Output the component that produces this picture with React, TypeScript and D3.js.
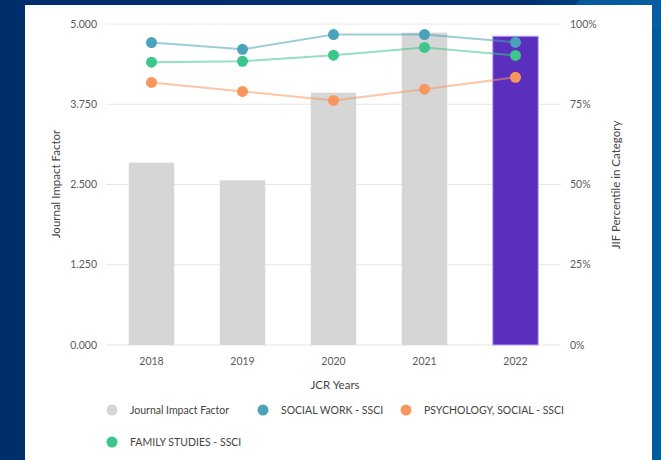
import React, { useEffect, useRef } from 'react';
import * as d3 from 'd3';

const years = ['2018', '2019', '2020', '2021', '2022'];
const impactFactor = [2.84, 2.565, 3.93, 4.865, 4.81];
const socialWork = [94.2, 92.1, 96.7, 96.7, 94.3];
const familyStudies = [88.1, 88.4, 90.3, 92.7, 90.2];
const psychologySocial = [81.8, 79.0, 76.2, 79.7, 83.4];
const leftTicks = [0, 1.25, 2.5, 3.75, 5];
const rightTicks = [0, 25, 50, 75, 100];

const seriesNames = ['Journal Impact Factor', 'SOCIAL WORK - SSCI', 'PSYCHOLOGY, SOCIAL - SSCI', 'FAMILY STUDIES - SSCI'];

const W = 661;
const H = 460;
const FONT = 'Lato, "Open Sans", sans-serif';

const App: React.FC = () => {
  const svgRef = useRef<SVGSVGElement>(null);

  useEffect(() => {
    if (!svgRef.current) return;
    const svg = d3.select(svgRef.current);
    svg.selectAll('*').remove();

    // background: navy frame with lighter blue to the right
    const defs = svg.append('defs');
    const grad = defs.append('linearGradient')
      .attr('id', 'bg')
      .attr('x1', '0').attr('y1', '0').attr('x2', '1').attr('y2', '0');
    grad.append('stop').attr('offset', '0%').attr('stop-color', '#002d6b');
    grad.append('stop').attr('offset', '80%').attr('stop-color', '#00306f');
    grad.append('stop').attr('offset', '100%').attr('stop-color', '#005c9e');
    svg.append('rect').attr('width', W).attr('height', H).attr('fill', 'url(#bg)');
    svg.append('path')
      .attr('d', `M580,0 L${W},0 L${W},30 L570,10 Z`)
      .attr('fill', '#0a5ea2').attr('opacity', 0.8);

    // white panel
    svg.append('rect')
      .attr('x', 25).attr('y', 5)
      .attr('width', 627).attr('height', H - 5)
      .attr('fill', '#ffffff');

    const x = d3.scaleBand<string>()
      .domain(years)
      .range([106, 561])
      .paddingInner(0.5)
      .paddingOuter(0.25);

    const yLeft = d3.scaleLinear().domain([0, 5]).range([345, 24]);
    const yRight = d3.scaleLinear().domain([0, 100]).range([345, 24]);

    const g = svg.append('g').attr('font-family', FONT);

    // gridlines
    g.append('g')
      .selectAll('line')
      .data(leftTicks)
      .join('line')
      .attr('x1', 106).attr('x2', 561)
      .attr('y1', d => yLeft(d)).attr('y2', d => yLeft(d))
      .attr('stroke', '#e6e6e6').attr('stroke-width', 1);

    // left axis labels
    g.append('g')
      .selectAll('text')
      .data(leftTicks)
      .join('text')
      .attr('x', 97).attr('y', d => yLeft(d))
      .attr('dy', '0.35em')
      .attr('text-anchor', 'end')
      .attr('font-size', 10.5)
      .attr('fill', '#5a5a5a')
      .text(d => d3.format('.3f')(d));

    // right axis labels
    g.append('g')
      .selectAll('text')
      .data(rightTicks)
      .join('text')
      .attr('x', 570).attr('y', d => yRight(d))
      .attr('dy', '0.35em')
      .attr('text-anchor', 'start')
      .attr('font-size', 10.5)
      .attr('fill', '#5a5a5a')
      .text(d => `${d}%`);

    // axis titles
    g.append('text')
      .attr('transform', `translate(60,184) rotate(-90)`)
      .attr('text-anchor', 'middle')
      .attr('font-size', 11.5)
      .attr('fill', '#444')
      .text('Journal Impact Factor');

    g.append('text')
      .attr('transform', `translate(620,185) rotate(-90)`)
      .attr('text-anchor', 'middle')
      .attr('font-size', 11.5)
      .attr('fill', '#444')
      .text('JIF Percentile in Category');

    // bars
    g.append('g')
      .selectAll('rect')
      .data(impactFactor)
      .join('rect')
      .attr('x', (_, i) => x(years[i])!)
      .attr('width', x.bandwidth())
      .attr('y', d => yLeft(d))
      .attr('height', d => yLeft(0) - yLeft(d))
      .attr('fill', (_, i) => (i === years.length - 1 ? '#5b2fbd' : '#d6d6d6'))
      .attr('stroke', (_, i) => (i === years.length - 1 ? '#b9a6ee' : 'none'))
      .attr('stroke-width', 1);

    // percentile lines
    const lines = [
      { values: socialWork, color: '#4aa3bb' },
      { values: familyStudies, color: '#3cc68a' },
      { values: psychologySocial, color: '#f7965f' },
    ];
    const cx = (i: number) => x(years[i])! + x.bandwidth() / 2;
    const line = d3.line<number>()
      .x((_, i) => cx(i))
      .y(d => yRight(d));

    lines.forEach(s => {
      const sg = g.append('g');
      sg.append('path')
        .datum(s.values)
        .attr('d', line)
        .attr('fill', 'none')
        .attr('stroke', s.color)
        .attr('stroke-opacity', 0.55)
        .attr('stroke-width', 2);
      sg.selectAll('circle')
        .data(s.values)
        .join('circle')
        .attr('cx', (_, i) => cx(i))
        .attr('cy', d => yRight(d))
        .attr('r', 5.5)
        .attr('fill', s.color);
    });

    // x axis labels
    g.append('g')
      .selectAll('text')
      .data(years)
      .join('text')
      .attr('x', d => x(d)! + x.bandwidth() / 2)
      .attr('y', 361)
      .attr('dy', '0.35em')
      .attr('text-anchor', 'middle')
      .attr('font-size', 10.5)
      .attr('fill', '#5a5a5a')
      .text(d => d);

    g.append('text')
      .attr('x', 335).attr('y', 385)
      .attr('dy', '0.35em')
      .attr('text-anchor', 'middle')
      .attr('font-size', 11.5)
      .attr('fill', '#444')
      .text('JCR Years');

    // legend
    const legendColors = ['#d6d6d6', '#4aa3bb', '#f7965f', '#3cc68a'];
    const legendPos = [
      { x: 112, y: 410 },
      { x: 263, y: 410 },
      { x: 406, y: 410 },
      { x: 112, y: 442 },
    ];
    const lg = g.append('g')
      .selectAll('g')
      .data(seriesNames)
      .join('g')
      .attr('transform', (_, i) => `translate(${legendPos[i].x},${legendPos[i].y})`);
    lg.append('circle').attr('r', 5.5).attr('fill', (_, i) => legendColors[i]);
    lg.append('text')
      .attr('x', 18).attr('dy', '0.35em')
      .attr('font-size', 10.5)
      .attr('fill', '#444')
      .text(d => d);
  }, []);

  return (
    <div style={{ position: 'fixed', left: 0, top: 0, width: W, height: H }}>
      <svg ref={svgRef} width={W} height={H} style={{ display: 'block' }} />
    </div>
  );
};

export default App;
